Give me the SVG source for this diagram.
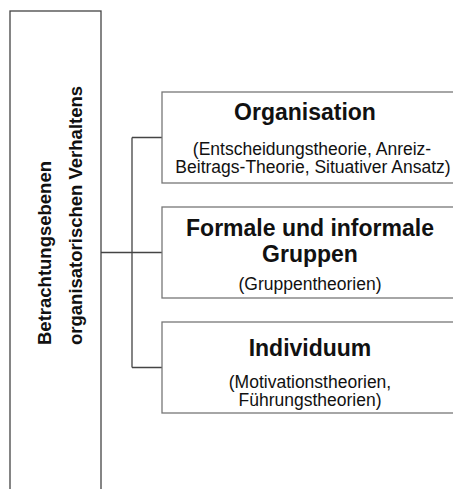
<svg xmlns="http://www.w3.org/2000/svg" width="453" height="489" viewBox="0 0 453 489">
<style>
.box{fill:#fff;stroke:#777;stroke-width:1.3}
.main{fill:#fff;stroke:#444;stroke-width:1.3}
.con{fill:none;stroke:#444;stroke-width:1.3}
.t{font-family:"Liberation Sans",Arial,sans-serif;fill:#111;text-anchor:middle}
.b{font-weight:bold;font-size:23px}
.s{font-size:17.5px}
.lb{font-weight:bold;font-size:18.5px;text-anchor:start}
</style>
<rect width="453" height="489" fill="#fff"/>
<g id="connectors">
<path class="con" d="M101 252.5H162M132 137.5V367.5M132 137.5H162M132 367.5H162"/>
</g>
<g id="root">
<rect class="main" x="10" y="11" width="91" height="490"/>
<text class="t lb" transform="translate(51 345) rotate(-90)">Betrachtungsebenen</text>
<text class="t lb" transform="translate(82 345) rotate(-90)">organisatorischen Verhaltens</text>
</g>
<g id="organisation">
<rect class="box" x="162" y="92" width="300" height="91"/>
<text class="t b" x="305" y="120">Organisation</text>
<text class="t s" x="312" y="154.5">(Entscheidungstheorie, Anreiz-</text>
<text class="t s" x="313" y="173">Beitrags-Theorie, Situativer Ansatz)</text>
</g>
<g id="gruppen">
<rect class="box" x="162" y="207" width="300" height="91"/>
<text class="t b" x="310" y="236">Formale und informale</text>
<text class="t b" x="310" y="262">Gruppen</text>
<text class="t s" x="310" y="290">(Gruppentheorien)</text>
</g>
<g id="individuum">
<rect class="box" x="162" y="322" width="300" height="91"/>
<text class="t b" x="310" y="356">Individuum</text>
<text class="t s" x="310" y="387.5">(Motivationstheorien,</text>
<text class="t s" x="310" y="406">Führungstheorien)</text>
</g>
</svg>
